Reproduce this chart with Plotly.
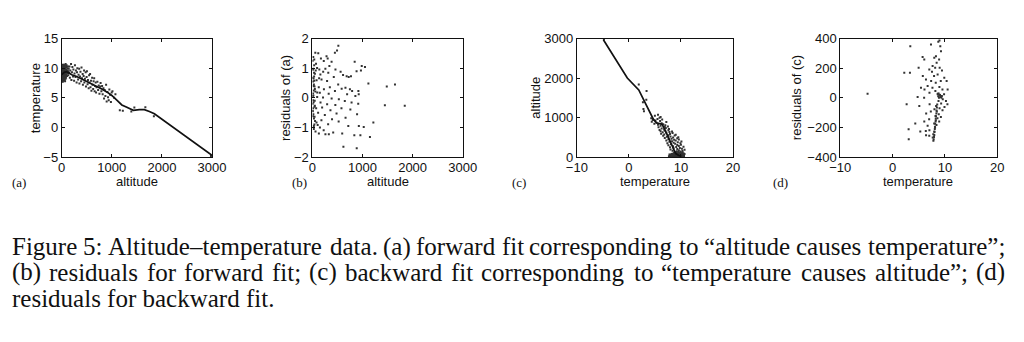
import plotly.graph_objects as go

# Observations: altitude (m) and mean temperature (deg C) of weather stations
altitude = [
    0, 2, 4, 5, 6, 8, 10, 10, 12, 14, 15, 16, 18, 20, 20, 22, 24, 25, 28, 30,
    30, 32, 35, 36, 38, 40, 42, 45, 46, 48, 50, 52, 55, 58, 60, 62, 65, 68, 70, 72,
    75, 78, 80, 82, 85, 88, 90, 95, 98, 100, 105, 110, 115, 120, 125, 130, 135, 140, 150,
    3, 7, 9, 11, 13, 17, 19, 21, 23, 26, 27, 29, 31, 33, 34, 37, 39, 41, 43, 44,
    47, 49, 51, 53, 54, 56, 57, 59, 61, 63, 66, 67, 69, 71, 73, 76, 77, 79, 83, 86,
    155, 163, 172, 186, 193, 204, 213, 226, 233, 247, 256, 264, 276, 283, 297, 305,
    312, 327, 336, 348, 353, 366, 374, 387, 395, 404, 418, 423, 437, 446, 452, 463,
    478, 484, 497, 503, 516, 524, 538, 547, 553, 566, 574, 585, 593, 607, 615, 628,
    636, 648, 657, 665, 678, 686, 694, 712, 727, 738, 753, 768, 776, 792, 806, 817,
    833, 845, 858, 872, 886, 897, 912, 925, 938, 951, 966, 982, 997, 1013, 1046, 1072,
    1160, 1220, 1390, 1450, 1670, 1840, 2980,
]
temperature = [
    8.1, 9.6, 8.6, 10.2, 9.1, 7.8, 9.9, 8.4, 9.3, 10.6, 8.0, 9.0, 9.7, 8.7, 10.3, 7.7, 9.4, 8.3, 10.0, 9.1,
    8.5, 9.8, 7.9, 10.5, 8.9, 9.5, 8.2, 10.1, 9.2, 8.6, 9.9, 8.0, 9.4, 10.4, 8.8, 9.6, 8.3, 10.0, 9.2, 8.6,
    9.8, 10.7, 9.0, 8.4, 9.5, 10.2, 8.9, 9.7, 10.5, 9.3, 8.7, 10.0, 9.6, 9.1, 10.3, 8.8, 9.5, 9.9, 9.2,
    9.0, 9.4, 8.9, 10.1, 8.2, 9.5, 9.2, 8.5, 10.0, 9.6, 8.8, 9.3, 10.4, 8.6, 9.0, 9.7, 8.4, 9.2, 10.6, 8.8,
    9.4, 8.3, 9.7, 10.2, 8.5, 9.1, 8.0, 9.5, 10.0, 8.7, 9.3, 7.8, 9.8, 8.9, 10.4, 9.1, 8.2, 9.6, 9.2, 8.6,
    10.3, 8.4, 9.6, 10.7, 8.0, 9.3, 10.2, 8.6, 9.8, 7.9, 9.1, 10.5, 8.5, 9.6, 7.6, 9.3,
    10.0, 8.1, 8.9, 9.9, 7.4, 8.6, 9.4, 7.8, 10.1, 8.3, 9.0, 7.2, 8.7, 9.6, 7.6, 8.2,
    9.3, 6.9, 8.5, 9.5, 7.3, 8.0, 6.6, 8.8, 7.6, 9.0, 6.8, 7.9, 6.2, 8.4, 7.2, 6.5,
    7.8, 8.3, 6.1, 7.0, 7.6, 5.9, 6.8, 7.7, 6.3, 7.1, 5.7, 6.9, 7.5, 6.1, 7.0, 5.6,
    6.6, 4.9, 6.3, 5.3, 7.2, 4.4, 6.0, 5.1, 4.6, 6.4, 5.5, 4.3, 5.9, 6.1, 5.0, 5.6,
    2.9, 2.8, 2.7, 3.35, 3.4, 1.9, -4.8,
]

# Forward fit: temperature as a smooth function of altitude
fwd_alt = [0, 50, 100, 200, 300, 400, 500, 600, 700, 800, 900, 1000, 1100,
           1200, 1300, 1430, 1550, 1650, 1750, 1850, 3000]
fwd_temp = [8.9, 9.3, 9.4, 8.9, 8.6, 8.2, 7.7, 7.3, 6.9, 6.5, 6.0, 5.4, 4.6,
            3.8, 3.4, 2.9, 3.0, 3.0, 2.7, 2.3, -4.7]

# Residuals of the forward fit, against altitude
res_fwd_alt = [
    517, 491, 448, 116, 57, 281, 304, 169, 36, 226, 843, 382, 71, 338, 984, 1049,
    92, 18, 258, 137, 459, 881, 968, 562, 214, 49, 158, 316, 611, 683, 724, 769,
    426, 3, 181, 83, 292, 1117, 1484, 1648, 514, 24, 126, 347, 659, 748, 792, 917,
    229, 449, 583, 58, 147, 324, 692, 924, 857, 7, 94, 211, 383, 527, 14, 646,
    781, 1446, 1843, 914, 161, 293, 457, 47, 193, 579, 757, 359, 2, 113, 481, 891,
    247, 42, 661, 391, 179, 1216, 81, 523, 313, 27, 716, 149, 926, 1024, 224, 61,
    414, 128, 327, 259, 594, 836, 957, 1148, 618, 884,
    10, 15, 25, 30, 35, 45, 8, 18, 28, 38, 12, 22, 42, 48, 5, 32,
    4, 11, 19, 27, 33, 41, 6, 16, 23, 37, 52, 65, 74, 96, 104, 133,
]
res_fwd_val = [
    1.76, 1.60, 1.52, 1.50, 1.52, 1.40, 1.33, 1.33, 1.29, 1.24, 1.22, 1.22, 1.15, 1.07, 1.07, 1.04,
    1.01, 0.98, 0.98, 0.96, 0.96, 0.90, 0.92, 0.88, 0.88, 0.81, 0.79, 0.85, 0.77, 0.73, 0.70, 0.73,
    0.70, 0.68, 0.62, 0.59, 0.57, 0.48, 0.38, 0.45, 0.45, 0.40, 0.36, 0.36, 0.34, 0.29, 0.23, 0.23,
    0.29, 0.23, 0.31, 0.21, 0.17, 0.14, 0.12, 0.12, 0.06, 0.06, 0.03, 0.01, -0.02, -0.05, -0.08, -0.11,
    -0.16, -0.25, -0.27, -0.20, -0.16, -0.22, -0.24, -0.27, -0.33, -0.35, -0.39, -0.42, -0.44, -0.50, -0.53, -0.55,
    -0.58, -0.64, -0.67, -0.72, -0.76, -0.83, -0.83, -0.80, -0.89, -0.95, -0.95, -1.00, -0.95, -0.98, -1.09, -1.14,
    -1.17, -1.20, -1.23, -1.23, -1.20, -1.26, -1.26, -1.32, -1.65, -1.70,
    0.55, -0.35, 0.25, -0.70, 1.10, -0.10, 0.95, -0.55, 0.45, -0.90, 0.15, 0.65, -0.30, 0.30, -0.20, 0.85,
    1.25, -0.62, 0.08, -1.05, 0.72, 0.38, -0.45, 1.38, -0.15, 0.58, -0.78, 0.92, -0.35, 0.18, -0.92, 0.66,
]

# Backward fit: altitude as a smooth function of temperature
bwd_temp = [-4.9, -0.3, 1.9, 3.2, 4.7, 5.3, 6.4, 7.4, 8.3, 9.0, 9.6, 10.1]
bwd_alt = [2970, 2000, 1700, 1350, 960, 870, 830, 555, 300, 90, 40, 20]

# Residuals of the backward fit, against temperature
res_bwd_temp = [
    -4.78, 3.38, 7.33, 8.73, 9.11, 8.95, 9.24, 2.23, 3.31, 5.73, 6.05, 4.97, 8.28, 7.96, 8.88, 8.41,
    7.64, 8.13, 8.99, 7.01, 9.43, 7.52, 5.77, 7.92, 8.60, 9.87, 6.37, 7.36, 8.24, 9.20, 10.32, 6.69,
    7.61, 5.42, 6.09, 8.94, 8.17, 9.52, 10.51, 8.63, 9.05, 7.04, 4.78, 8.86, 9.83, 6.02, 9.58, 8.77,
    10.19, 9.27, 10.47, 2.68, 7.07, 5.10, 8.31, 9.91, 8.97, 7.99, 9.53, 8.44, 7.30, 6.41, 8.82, 8.19,
    9.22, 8.57, 6.98, 8.26, 6.05, 8.90, 7.94, 6.69, 8.38, 4.33, 8.11, 7.03, 6.34, 7.97, 3.06, 5.29,
    7.77, 6.39, 7.66, 7.00, 3.08, 7.79,
    8.52, 8.46, 8.39, 8.36, 8.29, 8.24, 8.21, 8.14, 8.09, 8.06, 7.99, 7.96, 7.91, 7.84,
    8.71, 8.93, 9.12, 8.79, 9.02, 9.33, 8.62, 9.41,
]
res_bwd_val = [
    28, 348, 360, 378, 348, 387, 315, 169, 169, 275, 259, 203, 281, 270, 259, 237,
    214, 203, 203, 192, 185, 176, 147, 147, 158, 136, 124, 113, 102, 113, 113, 80,
    68, 68, 57, 73, 46, 57, 57, 28, 19, 35, 6, 1, 24, 1, -10, -21,
    -21, -39, -44, -44, -44, -55, -55, -62, -70, -77, -84, -93, -93, -106, -111, -122,
    -129, -138, -144, -151, -160, -160, -174, -189, -183, -174, -200, -218, -223, -227, -212, -227,
    -245, -252, -268, -256, -279, -290,
    -45, -65, -85, -105, -125, -140, -160, -175, -195, -210, -230, -250, -265, -280,
    10, 20, 5, 30, 15, 0, 25, 12,
]

W, H = 1024, 342
INK = "#111111"
DOT = dict(size=2, color="#333333", symbol="square")
SANS = "Liberation Sans, Arial, sans-serif"
SERIF = "Liberation Serif, Times New Roman, serif"
TICK_FONT = dict(family=SANS, size=13, color=INK)

# Plot boxes in page pixels: (left, right, top, bottom)
boxes = [(52, 206, 33, 157), (309, 463, 33, 157), (580, 740, 33, 157), (850, 1011, 33, 157)]


def dom_x(l, r):
    return [l / W, r / W]


def dom_y(t, b):
    return [1 - b / H, 1 - t / H]


fig = go.Figure()

fig.add_trace(go.Scatter(x=altitude, y=temperature, mode="markers", marker=DOT,
                         xaxis="x", yaxis="y"))
fig.add_trace(go.Scatter(x=fwd_alt, y=fwd_temp, mode="lines",
                         line=dict(color=INK, width=1.7), xaxis="x", yaxis="y"))
fig.add_trace(go.Scatter(x=res_fwd_alt, y=res_fwd_val, mode="markers", marker=DOT,
                         xaxis="x2", yaxis="y2"))
fig.add_trace(go.Scatter(x=temperature, y=altitude, mode="markers", marker=DOT,
                         xaxis="x3", yaxis="y3"))
fig.add_trace(go.Scatter(x=bwd_temp, y=bwd_alt, mode="lines",
                         line=dict(color=INK, width=1.7), xaxis="x3", yaxis="y3"))
fig.add_trace(go.Scatter(x=res_bwd_temp, y=res_bwd_val, mode="markers", marker=DOT,
                         xaxis="x4", yaxis="y4"))

ranges = [
    ([0, 3000], [0, 1000, 2000, 3000], [-5, 15], [-5, 0, 5, 10, 15]),
    ([0, 3000], [0, 1000, 2000, 3000], [-2, 2], [-2, -1, 0, 1, 2]),
    ([-10, 20], [-10, 0, 10, 20], [0, 3000], [0, 1000, 2000, 3000]),
    ([-10, 20], [-10, 0, 10, 20], [-400, 400], [-400, -200, 0, 200, 400]),
]

axis_common = dict(showline=True, linecolor=INK, linewidth=1, mirror="ticks",
                   ticks="inside", ticklen=3, tickcolor=INK, showgrid=False,
                   zeroline=False, tickfont=TICK_FONT)

layout = dict(width=W, height=H, margin=dict(l=0, r=0, t=0, b=0),
              paper_bgcolor="white", plot_bgcolor="white", showlegend=False)

for i, ((l, r, t, b), (xr, xt, yr, yt)) in enumerate(zip(boxes, ranges)):
    n = "" if i == 0 else str(i + 1)
    layout["xaxis" + n] = dict(axis_common, domain=dom_x(l, r), range=xr,
                               tickvals=xt, anchor="y" + n, ticklabelstandoff=-2)
    layout["yaxis" + n] = dict(axis_common, domain=dom_y(t, b), range=yr,
                               tickvals=yt, anchor="x" + n, ticklabelstandoff=0)

fig.update_layout(**layout)

annotations = []


def px_note(text, x, y, size, family, angle=0, xanchor="center"):
    annotations.append(dict(text=text, x=x / W, y=1 - y / H, xref="paper", yref="paper",
                            showarrow=False, textangle=angle, xanchor=xanchor,
                            yanchor="middle", borderpad=0,
                            font=dict(family=family, size=size, color=INK)))


# Axis titles
px_note("altitude", 129, 182.5, 13, SANS)
px_note("temperature", 25, 95, 13, SANS, angle=-90)
px_note("altitude", 386, 182.5, 13, SANS)
px_note("residuals of (a)", 282, 95, 13, SANS, angle=-90)
px_note("temperature", 660, 182.5, 13, SANS)
px_note("altitude", 538, 95, 13, SANS, angle=-90)
px_note("temperature", 930, 182.5, 13, SANS)
px_note("residuals of (c)", 806, 95, 13, SANS, angle=-90)

# Panel letters
px_note("(a)", 0, 184, 13, SERIF, xanchor="left")
px_note("(b)", 287, 184, 13, SERIF, xanchor="left")
px_note("(c)", 512, 184, 13, SERIF, xanchor="left")
px_note("(d)", 780, 184, 13, SERIF, xanchor="left")

# Caption, set justified word by word (Times advance widths, 1/1000 em)
ADV = {" ": 250, "(": 333, ")": 333, ".": 250, ":": 278, ";": 278, "–": 500,
       "“": 444, "”": 444, "5": 500, "A": 722, "F": 556,
       "a": 444, "b": 500, "c": 444, "d": 500, "e": 444, "f": 333, "g": 500,
       "h": 500, "i": 278, "k": 500, "l": 278, "m": 778, "n": 500, "o": 500,
       "p": 500, "r": 333, "s": 389, "t": 278, "u": 500, "w": 722}
CAP_SIZE = 25
SET_WIDTH = 1.045   # rendered advance relative to the nominal metrics
caption = [
    "Figure 5: Altitude–temperature data. (a) forward fit corresponding to “altitude causes temperature”;",
    "(b) residuals for forward fit; (c) backward fit corresponding to “temperature causes altitude”; (d)",
    "residuals for backward fit.",
]
cap_left, cap_right = 0, 1020
cap_y = [250.5, 277.5, 304.5]


def text_width(s):
    return sum(ADV.get(ch, 500) for ch in s) * CAP_SIZE / 1000 * SET_WIDTH


for k, line in enumerate(caption):
    if k == len(caption) - 1:
        px_note(line, cap_left, cap_y[k], CAP_SIZE, SERIF, xanchor="left")
        continue
    words = line.split(" ")
    widths = [text_width(w) for w in words]
    gap = (cap_right - cap_left - sum(widths)) / (len(words) - 1)
    x = cap_left
    for j, (w, wd) in enumerate(zip(words, widths)):
        if j == len(words) - 1:
            px_note(w, cap_right, cap_y[k], CAP_SIZE, SERIF, xanchor="right")
        else:
            px_note(w, x, cap_y[k], CAP_SIZE, SERIF, xanchor="left")
        x += wd + gap

fig.update_layout(annotations=annotations)
fig.write_html("out.html")
